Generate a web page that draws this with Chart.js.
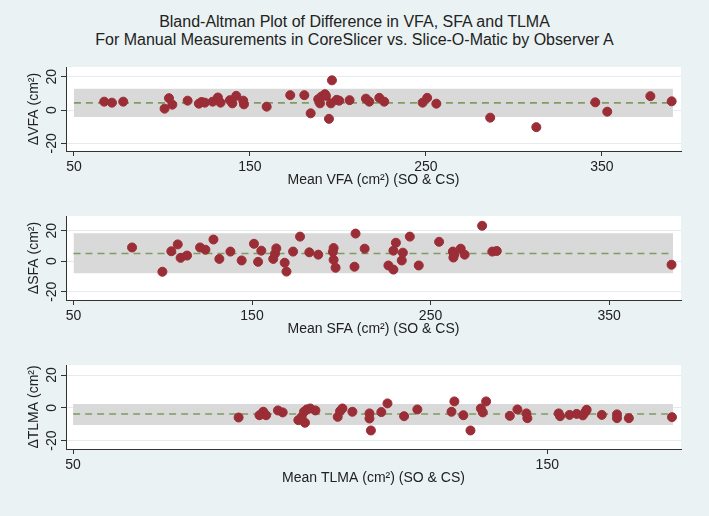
<!DOCTYPE html>
<html>
<head>
<meta charset="utf-8">
<script src="https://cdn.jsdelivr.net/npm/chart.js@4.4.0/dist/chart.umd.min.js"></script>
<style>
  body { margin: 0; background: #eaf2f3; width: 709px; height: 516px; overflow: hidden; position: relative;
         font-family: "Liberation Sans", Arial, sans-serif; }
  #titulo { position: absolute; top: 13px; left: 0; width: 709px; text-align: center;
            font-size: 16px; line-height: 18px; color: #222; }
  canvas { position: absolute; left: 0; }
</style>
</head>
<body>
<div id="titulo">Bland-Altman Plot of Difference in VFA, SFA and TLMA<br>For Manual Measurements in CoreSlicer vs. Slice-O-Matic by Observer A</div>
<canvas id="vfaChart" width="709" height="133" style="top:58px"></canvas>
<canvas id="sfaChart" width="709" height="133" style="top:207px"></canvas>
<canvas id="tlmaChart" width="709" height="133" style="top:356px"></canvas>
<script>
// Datos: media (x) y diferencia (y) de cada observación
const vfaMedia = [67.2, 71.6, 78, 101.5, 104, 105.9, 114.6, 121, 122.5, 124.4, 128.8, 131.8, 133.3, 138.6, 140, 142.2,
  146.2, 146.6, 159.5, 172.9, 180.9, 184.5, 188.8, 189.8, 190.7, 192.6, 193.2, 194.9, 196.6, 196, 199.3, 200.7, 206.6,
  215.9, 217.8, 223.5, 226.3, 248.1, 250.7, 255.9, 286.5, 312.7, 346.2, 353, 377.5, 389.6];
const vfaDif = [5.0, 4.4, 5.0, 0.8, 7.1, 3.2, 5.6, 3.8, 4.8, 4.4, 5.0, 7.5, 4.4, 5.9, 4.0, 8.5,
  5.6, 3.4, 2.0, 8.9, 8.9, -2.0, 6.5, 4.0, 8.1, 9.5, 8.5, -5.3, 17.8, 4.0, 6.1, 5.6, 5.9,
  6.8, 5.0, 7.3, 5.0, 4.4, 7.3, 3.8, -4.6, -10.3, 4.6, -1.0, 8.3, 5.2];

const sfaMedia = [82.8, 99.8, 104.8, 108.4, 110, 113.6, 120.9, 123.9, 128.4, 131.7, 137.9, 144.2, 151.1, 153.4, 155.2,
  161.9, 162.9, 163.6, 168.3, 169.3, 173, 176.9, 182.1, 187.1, 195.3, 195.7, 195.7, 196.8, 207.4, 208, 213.1,
  226.4, 229.2, 229.2, 230.6, 234.5, 233.9, 238.4, 243.4, 254.8, 262.5, 262.8, 263.2, 266.9, 269.1, 278.9,
  284.6, 287.1, 385];
const sfaDif = [9.0, -6.9, 6.5, 11.0, 2.2, 3.7, 9.0, 7.5, 14.2, 1.5, 6.3, 0.5, 11.4, -0.4, 6.9,
  1.5, 5.0, 8.4, -1.0, -6.8, 6.3, 16.1, 5.8, 4.3, 6.1, 8.6, 0.9, -4.3, -3.6, 18.1, 8.2,
  -2.8, -5.5, 6.9, 12.1, 5.6, 0.5, 16.1, -2.8, 12.7, 6.3, 2.4, 4.1, 8.2, 4.3, 23.2,
  6.3, 6.7, -2.3];

const tlmaMedia = [84.9, 89.3, 90.1, 90.7, 93.2, 94.2, 97.5, 98.2, 98.7, 98.9, 99.3, 100, 101.1, 105.8, 106.3,
  106.8, 108.9, 112.5, 112.5, 112.8, 115, 116.3, 119.8, 122.6, 129.8, 130.4, 132.3, 133.8, 136, 136.4, 137.1,
  142.1, 143.7, 145.6, 145.8, 152.4, 152.7, 154.7, 156.2, 157.5, 158, 158.3, 161.5, 164.7, 164.7, 167.2, 176.3];
const tlmaDif = [-5.9, -4.5, -2.4, -4.5, -1.6, -2.8, -7.5, -5.5, -2.4, -9.1, -1.0, -0.4, -1.6, -5.5, -2.0,
  -0.4, -2.4, -3.4, -6.5, -13.8, -2.6, 2.7, -5.1, -1.0, -2.4, 3.9, -4.5, -13.8, -0.4, -2.8, 3.9,
  -4.9, -1.0, -3.4, -6.3, -3.4, -5.1, -4.3, -3.7, -4.6, -2.6, -1.2, -4.3, -4.0, -6.3, -6.3, -5.7];

// Límites de acuerdo: [inferior, media, superior]
const vfaLimites = [-4.2, 4.3, 12.7];
const sfaLimites = [-7.9, 5.0, 18.3];
const tlmaLimites = [-10.4, -3.8, 2.3];

// Extensión horizontal de la banda: [inicio, fin]
const vfaBanda = [50, 390.3];
const sfaBanda = [50, 385.9];
const tlmaBanda = [50, 176.5];

// Rangos y marcas de los ejes
const vfaRangoX = [45.5, 394.9];
const sfaRangoX = [45.8, 390.3];
const tlmaRangoX = [48.5, 178.2];
const vfaRangoY = [-24.6, 25.8];
const sfaRangoY = [-25.4, 29.6];
const tlmaRangoY = [-25.1, 26.1];
const marcasX = [50, 150, 250, 350];
const marcasXTlma = [50, 150];
const marcasY = [-20, 0, 20];

const fuente = '"Liberation Sans", Arial, sans-serif';
Chart.defaults.font.family = fuente;
Chart.defaults.font.size = 14;
Chart.defaults.color = '#222';

// Fondo blanco de la zona del gráfico
const fondoBlanco = {
  id: 'fondoBlanco',
  beforeDraw(chart) {
    const a = chart.chartArea;
    chart.ctx.save();
    chart.ctx.fillStyle = '#ffffff';
    chart.ctx.fillRect(a.left, a.top, a.right - a.left, a.bottom - a.top);
    chart.ctx.restore();
  }
};

// Etiquetas del eje Y giradas (como en Stata)
const etiquetasY = {
  id: 'etiquetasY',
  afterDraw(chart) {
    const y = chart.scales.y;
    const ctx = chart.ctx;
    ctx.save();
    ctx.font = '14px ' + fuente;
    ctx.fillStyle = '#222';
    ctx.textAlign = 'center';
    ctx.textBaseline = 'middle';
    y.ticks.forEach(t => {
      ctx.save();
      ctx.translate(y.right - 14, y.getPixelForValue(t.value));
      ctx.rotate(-Math.PI / 2);
      ctx.fillText(String(t.value), 0, 0);
      ctx.restore();
    });
    ctx.restore();
  }
};

function crearPanel(id, medias, difs, limites, banda, rangoX, rangoY, ticksX, tituloX, tituloY) {
  const [inf, media, sup] = limites;
  new Chart(document.getElementById(id).getContext('2d'), {
    type: 'scatter',
    data: {
      datasets: [{
        data: medias.map((m, i) => ({ x: m, y: difs[i] })),
        backgroundColor: '#9b2d37',
        borderColor: '#9b2d37',
        pointRadius: 4.5,
        order: 0
      }, {
        type: 'line',
        data: [{ x: banda[0], y: media }, { x: banda[1], y: media }],
        borderColor: '#7f9c62',
        borderWidth: 1.6,
        borderDash: [7, 5],
        pointRadius: 0,
        fill: false,
        order: 1
      }, {
        type: 'line',
        data: [{ x: banda[0], y: sup }, { x: banda[1], y: sup }],
        borderColor: 'rgba(0,0,0,0)',
        borderWidth: 0,
        backgroundColor: '#d9d9d9',
        pointRadius: 0,
        fill: { value: inf },
        order: 2
      }]
    },
    options: {
      responsive: false,
      animation: false,
      layout: { padding: { top: 9, right: 28, left: 0, bottom: 0 } },
      plugins: { legend: { display: false }, tooltip: { enabled: false } },
      scales: {
        x: {
          type: 'linear',
          min: rangoX[0],
          max: rangoX[1],
          afterBuildTicks: s => { s.ticks = ticksX.map(v => ({ value: v })); },
          afterFit: s => { s.height = 40; },
          ticks: { padding: 3, maxRotation: 0, font: { size: 14 } },
          grid: { drawOnChartArea: false, tickLength: 5, tickColor: '#333' },
          border: { color: '#333', width: 1 },
          title: { display: true, text: tituloX, font: { size: 14 }, padding: { top: 0, bottom: 2 } }
        },
        y: {
          min: rangoY[0],
          max: rangoY[1],
          afterBuildTicks: s => { s.ticks = marcasY.map(v => ({ value: v })); },
          afterFit: s => { s.width = 66; },
          ticks: { display: false },
          grid: { color: '#e4ecee', tickLength: 5, tickColor: '#333' },
          border: { color: '#333', width: 1 },
          title: { display: true, text: tituloY, font: { size: 14 }, padding: { top: 26, bottom: 0 } }
        }
      }
    },
    plugins: [fondoBlanco, etiquetasY]
  });
}

crearPanel('vfaChart', vfaMedia, vfaDif, vfaLimites, vfaBanda, vfaRangoX, vfaRangoY, marcasX,
  'Mean VFA (cm²) (SO & CS)', 'ΔVFA (cm²)');
crearPanel('sfaChart', sfaMedia, sfaDif, sfaLimites, sfaBanda, sfaRangoX, sfaRangoY, marcasX,
  'Mean SFA (cm²) (SO & CS)', 'ΔSFA (cm²)');
crearPanel('tlmaChart', tlmaMedia, tlmaDif, tlmaLimites, tlmaBanda, tlmaRangoX, tlmaRangoY, marcasXTlma,
  'Mean TLMA (cm²) (SO & CS)', 'ΔTLMA (cm²)');
</script>
</body>
</html>
